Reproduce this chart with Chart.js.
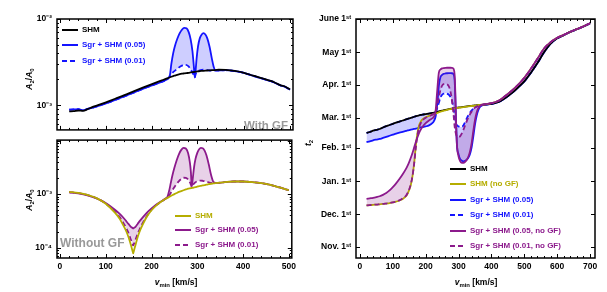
<!DOCTYPE html>
<html><head><meta charset="utf-8">
<script src="https://cdn.jsdelivr.net/npm/chart.js"></script>
<style>
body{margin:0;width:607px;height:292px;background:#fff;position:relative;overflow:hidden;font-family:"Liberation Sans",Arial,sans-serif;}
canvas{position:absolute;}
.t{position:absolute;white-space:nowrap;font-weight:bold;line-height:1;}
.rot{transform:translate(-50%,-50%) rotate(-90deg);font-size:8.5px;}
.xt{transform:translate(-50%,-50%);font-size:8.5px;}
.row{position:absolute;white-space:nowrap;height:10px;line-height:10px;font:bold 8px "Liberation Sans",Arial,sans-serif;}
.ln{position:absolute;left:0;top:4px;width:16px;height:2px;}
.tx{position:absolute;left:20px;top:0;}
sub{font-size:70%;vertical-align:-2px;line-height:0;}
</style></head><body>
<canvas id="c1" style="left:0;top:0" width="300" height="140"></canvas>
<canvas id="c2" style="left:0;top:130px" width="300" height="162"></canvas>
<canvas id="c3" style="left:300px;top:0" width="307" height="292"></canvas>
<div id="overlay"></div>
<script>
// ---------- DATA ----------
// left panels: x = v_min [km/s]
const vTop = [20,30,40,50,60,70,80,100,120,140,160,180,200,220,230,235,239,242,246,250,255,260,265,270,275,280,284,288,291,293,295,297,300,304,308,312,316,320,325,330,334,337,345,360,380,400,420,440,460,470,480,490,500];
// A2/A0 with gravitational focusing
const shmGF   = [8.5e-4,8.55e-4,8.7e-4,8.6e-4,9.0e-4,9.5e-4,9.9e-4,1.08e-3,1.19e-3,1.31e-3,1.45e-3,1.6e-3,1.76e-3,1.93e-3,2.02e-3,2.07e-3,2.11e-3,2.14e-3,2.18e-3,2.21e-3,2.25e-3,2.29e-3,2.32e-3,2.34e-3,2.36e-3,2.38e-3,2.4e-3,2.42e-3,2.43e-3,2.44e-3,2.45e-3,2.46e-3,2.47e-3,2.49e-3,2.5e-3,2.51e-3,2.52e-3,2.53e-3,2.54e-3,2.55e-3,2.56e-3,2.56e-3,2.58e-3,2.57e-3,2.5e-3,2.38e-3,2.2e-3,2.05e-3,1.9e-3,1.8e-3,1.7e-3,1.64e-3,1.52e-3];
const sgr05GF = [8.9e-4,8.95e-4,9.0e-4,8.75e-4,9.1e-4,9.3e-4,9.7e-4,1.05e-3,1.15e-3,1.27e-3,1.4e-3,1.55e-3,1.7e-3,1.86e-3,1.96e-3,2.05e-3,2.25e-3,3.0e-3,4.0e-3,4.9e-3,5.9e-3,6.8e-3,7.5e-3,7.9e-3,7.8e-3,7.0e-3,5.8e-3,4.2e-3,2.8e-3,2.1e-3,2.6e-3,3.5e-3,4.8e-3,6.0e-3,6.6e-3,6.85e-3,6.6e-3,6.0e-3,4.8e-3,3.5e-3,2.8e-3,2.56e-3,2.54e-3,2.55e-3,2.49e-3,2.37e-3,2.19e-3,2.04e-3,1.89e-3,1.79e-3,1.69e-3,1.63e-3,1.51e-3];
const sgr01GF = [8.9e-4,8.95e-4,9.0e-4,8.75e-4,9.1e-4,9.3e-4,9.7e-4,1.05e-3,1.15e-3,1.27e-3,1.4e-3,1.55e-3,1.7e-3,1.86e-3,1.96e-3,2.04e-3,2.15e-3,2.28e-3,2.42e-3,2.52e-3,2.65e-3,2.78e-3,2.88e-3,2.95e-3,2.93e-3,2.8e-3,2.6e-3,2.4e-3,2.2e-3,2.1e-3,2.3e-3,2.4e-3,2.48e-3,2.54e-3,2.57e-3,2.58e-3,2.57e-3,2.55e-3,2.53e-3,2.52e-3,2.52e-3,2.52e-3,2.53e-3,2.55e-3,2.49e-3,2.37e-3,2.19e-3,2.04e-3,1.89e-3,1.79e-3,1.69e-3,1.63e-3,1.51e-3];

const vBot = [20,40,60,80,100,120,130,140,145,150,155,158,160,162,165,170,175,180,190,200,210,220,230,235,239,242,246,250,255,260,265,270,275,280,284,286,288,290,293,296,300,304,308,312,316,320,325,330,335,340,360,380,400,420,440,460,480,500];
// A2/A0 without gravitational focusing
const shmNoGF   = [1.10e-3,1.05e-3,9.7e-4,8.4e-4,6.6e-4,4.5e-4,3.5e-4,2.45e-4,2.0e-4,1.55e-4,1.12e-4,9.0e-5,7.8e-5,9.0e-5,1.12e-4,1.6e-4,2.1e-4,2.6e-4,3.8e-4,5.0e-4,6.1e-4,7.1e-4,8.1e-4,8.5e-4,8.9e-4,9.2e-4,9.6e-4,1.0e-3,1.05e-3,1.1e-3,1.14e-3,1.18e-3,1.22e-3,1.26e-3,1.28e-3,1.29e-3,1.3e-3,1.31e-3,1.33e-3,1.35e-3,1.38e-3,1.41e-3,1.43e-3,1.45e-3,1.47e-3,1.5e-3,1.53e-3,1.56e-3,1.58e-3,1.6e-3,1.67e-3,1.72e-3,1.72e-3,1.68e-3,1.6e-3,1.48e-3,1.33e-3,1.18e-3];
const sgr05NoGF = [1.08e-3,1.03e-3,9.5e-4,8.3e-4,6.8e-4,5.1e-4,4.3e-4,3.5e-4,3.1e-4,2.75e-4,2.45e-4,2.35e-4,2.3e-4,2.35e-4,2.45e-4,2.8e-4,3.2e-4,3.6e-4,4.5e-4,5.4e-4,6.3e-4,7.2e-4,8.2e-4,9.0e-4,1.2e-3,1.6e-3,2.3e-3,3.1e-3,4.3e-3,5.6e-3,6.7e-3,7.3e-3,7.1e-3,5.8e-3,3.8e-3,2.6e-3,1.4e-3,1.9e-3,3.2e-3,4.5e-3,5.9e-3,6.9e-3,7.3e-3,7.2e-3,6.5e-3,5.3e-3,3.6e-3,2.3e-3,1.7e-3,1.61e-3,1.67e-3,1.72e-3,1.72e-3,1.68e-3,1.6e-3,1.48e-3,1.33e-3,1.18e-3];
const sgr01NoGF = [1.09e-3,1.04e-3,9.6e-4,8.35e-4,6.65e-4,4.7e-4,3.75e-4,2.75e-4,2.3e-4,1.85e-4,1.4e-4,1.2e-4,1.1e-4,1.2e-4,1.4e-4,1.85e-4,2.3e-4,2.8e-4,3.9e-4,5.1e-4,6.15e-4,7.1e-4,8.1e-4,8.6e-4,9.6e-4,1.05e-3,1.2e-3,1.35e-3,1.55e-3,1.75e-3,1.92e-3,2.02e-3,2.0e-3,1.88e-3,1.65e-3,1.5e-3,1.36e-3,1.45e-3,1.58e-3,1.67e-3,1.74e-3,1.78e-3,1.79e-3,1.77e-3,1.74e-3,1.7e-3,1.66e-3,1.62e-3,1.6e-3,1.6e-3,1.67e-3,1.72e-3,1.72e-3,1.68e-3,1.6e-3,1.48e-3,1.33e-3,1.18e-3];

// right panel: t2 in days after Nov. 1st
const vRight = [20,30,40,50,60,70,80,90,100,110,120,130,140,145,150,155,160,165,170,175,180,185,190,200,210,220,225,230,235,240,245,250,255,260,265,270,275,280,285,288,290,292,295,300,305,310,315,320,325,330,335,340,345,350,355,360,365,370,380,400,420,440,460,480,500,520,540,560,580,600,620,640,660,680,700];
const t2SHM      = [106,106.8,108,108.8,109.6,111,112.2,113.3,114.4,115.5,116.5,117.5,118.5,119,119.5,120,120.5,121,121.5,121.9,122.3,122.7,123,123.5,124,124.5,124.8,125.2,125.6,126,126.4,126.8,127.1,127.4,127.7,128,128.3,128.6,128.9,129.1,129.2,129.3,129.4,129.6,129.8,130,130.2,130.4,130.6,130.8,131,131.2,131.4,131.5,131.7,131.8,132,132.1,132.4,133,134.5,138,142.5,148,154,162,171,181,189,194,197,200,202.5,205,208];
const t2SHMNoGF  = [38.5,38.7,39,39.2,39.5,39.8,40.2,40.6,41.2,42,43,44.5,47,49.5,53,58,66,78,94,106,113,116.5,118.5,120.5,121.8,123,123.5,124,124.5,125.2,125.7,126.2,126.6,127,127.4,127.8,128.1,128.4,128.7,128.9,129,129.1,129.2,129.4,129.6,129.8,130,130.2,130.4,130.6,130.8,131,131.2,131.4,131.6,131.8,132,132.2,132.6,133.6,135.6,139.8,144.7,150.4,157.2,165.6,175,184.5,190.5,194.5,197.2,200.1,202.6,205.1,208.1];
const t2Sgr05    = [97.5,98,99,99.7,100.3,101.3,102.3,103.3,104.3,105.3,106.2,107,107.8,108.2,108.5,109,109.3,109.6,110,110.3,110.6,111,111.3,112,113,115,117,121,132,150,158,160,161,161.3,161.5,161.6,161.6,161.5,160.5,155,140,120,95,86,81.5,80,79.5,80,81,83,86.5,93,103,114,122,127,130,131.3,132.2,133,134.5,138,142.5,148,154,162,171,181,189,194,197,200,202.5,205,208];
const t2Sgr01    = [106,106.8,108,108.8,109.6,111,112.2,113.3,114.4,115.5,116.5,117.5,118.5,119,119.5,120,120.5,121,121.5,121.9,122.3,122.7,123,123.5,124,124.5,124.8,126,129,134,139,141.5,142.5,143,142.5,141.5,139.5,136,128,122,118,115,113,112,111.5,111.5,113,116,119.5,122.5,125,127,128.5,129.5,130.5,131,131.6,132,132.4,133,134.5,138,142.5,148,154,162,171,181,189,194,197,200,202.5,205,208];
const t2Sgr05NoGF= [44.5,45,45.5,46.2,47,48.3,50,52.5,55.5,59,63,67.5,72.5,75.5,79,83,87.5,92.5,97.5,102,106,109,111.5,115,117.5,119.5,121,126,145,162,165,166,166.3,166.5,166.6,166.6,166.6,166.5,165.5,160,145,120,95,84,79.5,78,78,79,81,84,89,97,108,118,125,129,131,132,132.6,133.6,135.6,139.8,144.7,150.4,157.2,165.6,175,184.5,190.5,194.5,197.2,200.1,202.6,205.1,208.1];
const t2Sgr01NoGF= [38.5,38.7,39,39.2,39.5,39.8,40.2,40.6,41.2,42,43.2,45,47.5,50,53.5,58.5,66,77.5,92,104,111,115,117.5,120,121.5,123,124,125.5,131,139,146,150,151.5,151.8,151.3,149.5,145,136,122,112,108,105,103,102,103,105.5,109,113,117,120.5,123.5,126,128,129.5,130.5,131.2,131.7,132.1,132.6,133.6,135.6,139.8,144.7,150.4,157.2,165.6,175,184.5,190.5,194.5,197.2,200.1,202.6,205.1,208.1];

// tick labels
const xTicksLeft  = [0,100,200,300,400,500];
const xTicksRight = [0,100,200,300,400,500,600,700];
const monthDays   = [0,30,61,92,120,151,181,212];
const monthLabels = ['Nov. 1ˢᵗ','Dec. 1ˢᵗ','Jan. 1ˢᵗ','Feb. 1ˢᵗ','Mar. 1ˢᵗ','Apr. 1ˢᵗ','May 1ˢᵗ','June 1ˢᵗ'];
const decadesTop = [1e-3,1e-2];
const decadesBot = [1e-4,1e-3];

// ---------- STYLE ----------
const BLUE='#1414ff', PURPLE='#8c1a8c', OLIVE='#b5ad00', BLACK='#000000';
const BLUE_FILL='rgba(30,30,255,0.22)', PURPLE_FILL='rgba(140,26,140,0.2)';
const FAM='"Liberation Sans", Arial, sans-serif';
const TFONT={family:FAM,size:8.5,weight:'bold'};

function pts(xs,ys){return xs.map((x,i)=>({x:x,y:ys[i]}));}
function ds(label,xs,ys,color,extra){
  return Object.assign({label:label,data:pts(xs,ys),borderColor:color,backgroundColor:color,borderWidth:1.8,
    pointRadius:0,fill:false,cubicInterpolationMode:'monotone'},extra||{});
}
const SUP={'-':'⁻','0':'⁰','1':'¹','2':'²','3':'³','4':'⁴','5':'⁵','6':'⁶','7':'⁷','8':'⁸','9':'⁹'};
function sci(v){const e=Math.round(Math.log10(v));return '10'+String(e).split('').map(c=>SUP[c]).join('');}

function range(a,b,s){const r=[];for(let v=a;v<=b+1e-9;v+=s)r.push(Math.round(v*1000)/1000);return r;}
function logMinor(lo,hi){const r=[];for(let e=-6;e<0;e++)for(let k=2;k<=9;k++){const v=k*Math.pow(10,e);if(v>lo&&v<hi)r.push(v);}return r;}

const framePlugin={
  id:'frame',
  afterDatasetsDraw(chart){
    const o=chart.options.plugins.frame; if(!o)return;
    const {ctx,chartArea:a,scales}=chart;
    ctx.save();
    ctx.strokeStyle='#000';
    ctx.lineWidth=1;
    const seg=(x1,y1,x2,y2)=>{ctx.beginPath();ctx.moveTo(x1,y1);ctx.lineTo(x2,y2);ctx.stroke();};
    const xs=(list,len)=>list.forEach(v=>{const p=Math.round(scales.x.getPixelForValue(v))+0.5;if(p<a.left||p>a.right)return;seg(p,a.bottom,p,a.bottom-len);seg(p,a.top,p,a.top+len);});
    const ys=(list,len)=>list.forEach(v=>{const p=Math.round(scales.y.getPixelForValue(v))+0.5;if(p<a.top-0.5||p>a.bottom+0.5)return;seg(a.left,p,a.left+len,p);seg(a.right,p,a.right-len,p);});
    xs(o.xMajor,4);xs(o.xMinor,2);ys(o.yMajor,4);ys(o.yMinor||[],2);
    ctx.lineWidth=1.5;
    ctx.strokeRect(a.left,a.top,a.right-a.left,a.bottom-a.top);
    ctx.restore();
  }
};

function baseOpts(padding,scales,frame){
  return {responsive:false,animation:false,devicePixelRatio:1,
    layout:{padding:padding},
    plugins:{legend:{display:false},tooltip:{enabled:false},frame:frame},
    scales:scales};
}
const noGrid={display:false,drawTicks:false};

// Top-left: with GF
new Chart(document.getElementById('c1'),{
  type:'line',
  data:{datasets:[
    ds('SHM',vTop,shmGF,BLACK,{order:0}),
    ds('Sgr + SHM (0.05)',vTop,sgr05GF,BLUE,{order:2,fill:2,backgroundColor:BLUE_FILL}),
    ds('Sgr + SHM (0.01)',vTop,sgr01GF,BLUE,{order:1,borderDash:[5,3]})
  ]},
  options:baseOpts({top:19,right:7,bottom:2,left:0},{
    x:{type:'linear',min:-6.5,max:506.5,display:false},
    y:{type:'logarithmic',min:5.18e-4,max:1e-2,
       afterFit(s){s.width=57;},
       afterBuildTicks(s){s.ticks=decadesTop.map(v=>({value:v}));},
       ticks:{font:TFONT,color:'#000',padding:5,callback:v=>sci(v)},
       grid:noGrid,border:{display:false}}
  },{xMajor:xTicksLeft,xMinor:range(20,500,20).filter(v=>v%100),yMajor:decadesTop,yMinor:logMinor(5.18e-4,1e-2)}),
  plugins:[framePlugin]
});

// Bottom-left: without GF
new Chart(document.getElementById('c2'),{
  type:'line',
  data:{datasets:[
    ds('SHM',vBot,shmNoGF,OLIVE,{order:0}),
    ds('Sgr + SHM (0.05)',vBot,sgr05NoGF,PURPLE,{order:2,fill:2,backgroundColor:PURPLE_FILL}),
    ds('Sgr + SHM (0.01)',vBot,sgr01NoGF,PURPLE,{order:1,borderDash:[5,3]})
  ]},
  options:baseOpts({top:8,right:7,bottom:0,left:0},{
    x:{type:'linear',min:-6.5,max:506.5,
       afterFit(s){s.height=34;},
       afterBuildTicks(s){s.ticks=xTicksLeft.map(v=>({value:v}));},
       ticks:{font:TFONT,color:'#000',padding:4,maxRotation:0,autoSkip:false},
       grid:noGrid,border:{display:false}},
    y:{type:'logarithmic',min:6.4e-5,max:1.02e-2,
       afterFit(s){s.width=57;},
       afterBuildTicks(s){s.ticks=decadesBot.map(v=>({value:v}));},
       ticks:{font:TFONT,color:'#000',padding:5,callback:v=>sci(v)},
       grid:noGrid,border:{display:false}}
  },{xMajor:xTicksLeft,xMinor:range(20,500,20).filter(v=>v%100),yMajor:[1e-4,1e-3,1e-2],yMinor:logMinor(6.4e-5,1.02e-2)}),
  plugins:[framePlugin]
});

// Right: t2
new Chart(document.getElementById('c3'),{
  type:'line',
  data:{datasets:[
    ds('SHM',vRight,t2SHM,BLACK,{order:3}),
    ds('SHM (no GF)',vRight,t2SHMNoGF,OLIVE,{order:2}),
    ds('Sgr + SHM (0.05)',vRight,t2Sgr05,BLUE,{order:5,fill:3,backgroundColor:BLUE_FILL}),
    ds('Sgr + SHM (0.01)',vRight,t2Sgr01,BLUE,{order:4,borderDash:[5,3]}),
    ds('Sgr + SHM (0.05, no GF)',vRight,t2Sgr05NoGF,PURPLE,{order:1,fill:5,backgroundColor:PURPLE_FILL}),
    ds('Sgr + SHM (0.01, no GF)',vRight,t2Sgr01NoGF,PURPLE,{order:0,borderDash:[5,3]})
  ]},
  options:baseOpts({top:19,right:12,bottom:0,left:0},{
    x:{type:'linear',min:-12,max:715,
       afterFit(s){s.height=34;},
       afterBuildTicks(s){s.ticks=xTicksRight.map(v=>({value:v}));},
       ticks:{font:TFONT,color:'#000',padding:4,maxRotation:0,autoSkip:false},
       grid:noGrid,border:{display:false}},
    y:{type:'linear',min:-10.5,max:212,
       afterFit(s){s.width=56;},
       afterBuildTicks(s){s.ticks=monthDays.map(v=>({value:v}));},
       ticks:{font:TFONT,color:'#000',padding:5,autoSkip:false,callback:v=>monthLabels[monthDays.indexOf(v)]},
       grid:noGrid,border:{display:false}}
  },{xMajor:xTicksRight,xMinor:range(20,700,20).filter(v=>v%100),yMajor:monthDays,yMinor:[]}),
  plugins:[framePlugin]
});

// ---------- TEXT OVERLAYS ----------
const ov=document.getElementById('overlay');
function add(html,cls,style){const d=document.createElement('div');d.className=cls;d.setAttribute('style',style);d.innerHTML=html;ov.appendChild(d);}
const AXY='<i>A</i><sub>2</sub>/<i>A</i><sub>0</sub>';
add(AXY,'t rot','left:29px;top:79px');
add(AXY,'t rot','left:29px;top:200px');
add('<i>t</i><sub>2</sub>','t rot','left:308px;top:143px');
add('<i>v</i><sub>min</sub> [km/s]','t xt','left:176px;top:282px');
add('<i>v</i><sub>min</sub> [km/s]','t xt','left:476px;top:282px');
add('With GF','t','left:244px;top:120px;font-size:11.5px;color:#999');
add('Without GF','t','left:60px;top:237px;font-size:12px;color:#999');

function legend(x,y,rows){
  rows.forEach((r,i)=>{
    const bg=r.dash?`repeating-linear-gradient(90deg,${r.c} 0 5px,transparent 5px 8px)`:r.c;
    add(`<span class="ln" style="background:${bg}"></span><span class="tx" style="color:${r.c}">${r.t}</span>`,'row',`left:${x}px;top:${y[i]-5}px`);
  });
}
legend(62,[29.5,45,61],[{t:'SHM',c:BLACK},{t:'Sgr + SHM (0.05)',c:BLUE},{t:'Sgr + SHM (0.01)',c:BLUE,dash:1}]);
legend(175,[216,230,244.5],[{t:'SHM',c:OLIVE},{t:'Sgr + SHM (0.05)',c:PURPLE},{t:'Sgr + SHM (0.01)',c:PURPLE,dash:1}]);
legend(450,[168.5,184,199.5,215,230.5,246],[{t:'SHM',c:BLACK},{t:'SHM (no GF)',c:OLIVE},{t:'Sgr + SHM (0.05)',c:BLUE},{t:'Sgr + SHM (0.01)',c:BLUE,dash:1},{t:'Sgr + SHM (0.05, no GF)',c:PURPLE},{t:'Sgr + SHM (0.01, no GF)',c:PURPLE,dash:1}]);
</script>
</body></html>
